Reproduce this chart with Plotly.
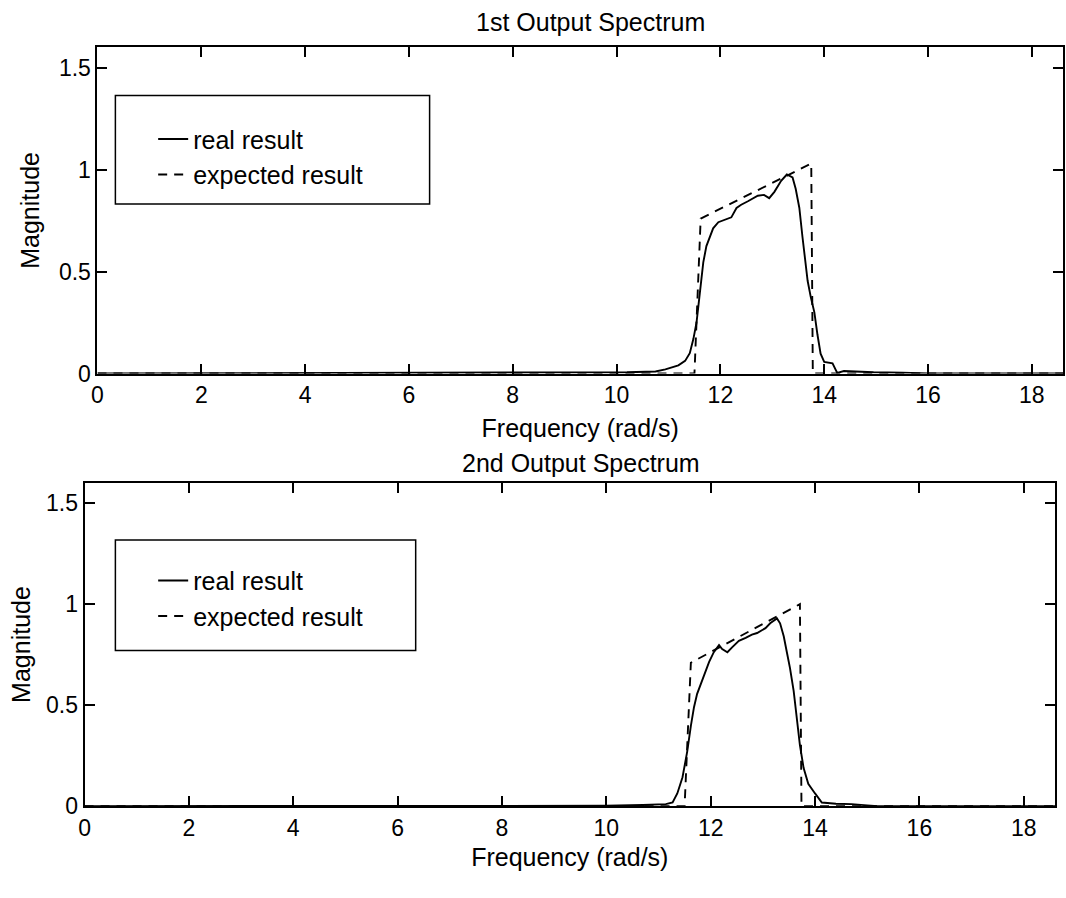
import plotly.graph_objects as go

W, H = 1066, 898

# ---------------- data ----------------
# 1st output spectrum
real1_x = [0, 9.7, 10.2, 10.75, 10.94, 11.19, 11.32, 11.41, 11.48, 11.54, 11.61, 11.67,
           11.73, 11.80, 11.86, 11.96, 12.08, 12.21, 12.31, 12.40, 12.53, 12.72, 12.84,
           12.94, 13.04, 13.17, 13.28, 13.39, 13.45, 13.52, 13.58, 13.68, 13.74, 13.81,
           13.87, 13.93, 14.00, 14.16, 14.25, 14.38, 14.6, 14.95, 15.5, 16.0, 18.6]
real1_y = [0, 0.004, 0.006, 0.010, 0.020, 0.040, 0.062, 0.100, 0.170, 0.250, 0.420, 0.545,
           0.625, 0.672, 0.712, 0.742, 0.753, 0.766, 0.812, 0.828, 0.845, 0.872, 0.876,
           0.860, 0.891, 0.945, 0.976, 0.962, 0.906, 0.813, 0.672, 0.455, 0.376, 0.300,
           0.190, 0.097, 0.057, 0.050, 0.003, 0.012, 0.010, 0.006, 0.004, 0, 0]
exp1_x = [0, 11.50, 11.62, 13.75, 13.78, 18.6]
exp1_y = [0, 0, 0.76, 1.03, 0, 0]

# 2nd output spectrum
real2_x = [0, 10.0, 10.7, 11.14, 11.27, 11.36, 11.46, 11.55, 11.62, 11.68, 11.74, 11.81,
           11.87, 11.97, 12.06, 12.16, 12.22, 12.32, 12.41, 12.54, 12.67, 12.79, 12.89,
           12.95, 13.05, 13.14, 13.27, 13.33, 13.40, 13.46, 13.52, 13.59, 13.65, 13.71,
           13.78, 13.87, 14.00, 14.13, 14.4, 14.7, 15.0, 15.2, 18.6]
real2_y = [0, 0.002, 0.006, 0.010, 0.018, 0.063, 0.143, 0.270, 0.397, 0.490, 0.556, 0.603,
           0.651, 0.714, 0.762, 0.797, 0.778, 0.762, 0.786, 0.818, 0.833, 0.849, 0.857,
           0.865, 0.881, 0.905, 0.929, 0.905, 0.841, 0.762, 0.683, 0.571, 0.429, 0.302,
           0.190, 0.111, 0.063, 0.018, 0.012, 0.010, 0.004, 0, 0]
exp2_x = [0, 11.50, 11.62, 13.71, 13.74, 18.6]
exp2_y = [0, 0, 0.71, 1.00, 0, 0]

titles = ["1st Output Spectrum", "2nd Output Spectrum"]
xlabel = "Frequency (rad/s)"
ylabel = "Magnitude"
xticks = [0, 2, 4, 6, 8, 10, 12, 14, 16, 18]
xtick_text = ["0", "2", "4", "6", "8", "10", "12", "14", "16", "18"]
yticks = [0, 0.5, 1, 1.5]
ytick_text = ["0", "0.5", "1", "1.5"]
names = ["real result", "expected result"]

FONT = "Liberation Sans, Arial, Helvetica, sans-serif"


def px(x):
    return x / W


def py(y):
    return 1 - y / H


fig = go.Figure()

line_kw = dict(color="black", width=1.9)
fig.add_trace(go.Scatter(x=real1_x, y=real1_y, mode="lines", name=names[0],
                         line=dict(**line_kw), xaxis="x", yaxis="y", legend="legend"))
fig.add_trace(go.Scatter(x=exp1_x, y=exp1_y, mode="lines", name=names[1],
                         line=dict(**line_kw, dash="9px,7px"), xaxis="x", yaxis="y",
                         legend="legend"))
fig.add_trace(go.Scatter(x=real2_x, y=real2_y, mode="lines", name=names[0],
                         line=dict(**line_kw), xaxis="x2", yaxis="y2", legend="legend2"))
fig.add_trace(go.Scatter(x=exp2_x, y=exp2_y, mode="lines", name=names[1],
                         line=dict(**line_kw, dash="9px,7px"), xaxis="x2", yaxis="y2",
                         legend="legend2"))

axis_common = dict(
    showline=True, linecolor="black", linewidth=2, mirror="ticks",
    ticks="inside", ticklen=10, tickwidth=1.5, tickcolor="black",
    showgrid=False, zeroline=False,
    tickfont=dict(family=FONT, size=23, color="black"),
)

# subplot boxes (pixels)
top_box = dict(l=92, r=1063, t=48, b=379)
bot_box = dict(l=79, r=1055, t=490, b=818)

fig.update_layout(
    width=W, height=H,
    margin=dict(l=0, r=0, t=0, b=0),
    paper_bgcolor="white", plot_bgcolor="white",
    xaxis=dict(**axis_common, domain=[px(top_box["l"]), px(top_box["r"])], range=[0, 18.6],
               tickvals=xticks, ticktext=xtick_text, anchor="y",
               title=dict(text=xlabel, font=dict(family=FONT, size=25, color="black"), standoff=12)),
    yaxis=dict(**axis_common, domain=[py(top_box["b"]), py(top_box["t"])], range=[0, 1.6],
               tickvals=yticks, ticktext=ytick_text, anchor="x",
               title=dict(text=ylabel, font=dict(family=FONT, size=25, color="black"), standoff=12)),
    xaxis2=dict(**axis_common, domain=[px(bot_box["l"]), px(bot_box["r"])], range=[0, 18.6],
                tickvals=xticks, ticktext=xtick_text, anchor="y2",
                title=dict(text=xlabel, font=dict(family=FONT, size=25, color="black"), standoff=9)),
    yaxis2=dict(**axis_common, domain=[py(bot_box["b"]), py(bot_box["t"])], range=[0, 1.6],
                tickvals=yticks, ticktext=ytick_text, anchor="x2",
                title=dict(text=ylabel, font=dict(family=FONT, size=25, color="black"), standoff=8)),
    legend=dict(x=px(148), y=py(118), xanchor="left", yanchor="top",
                bgcolor="rgba(0,0,0,0)", borderwidth=0,
                font=dict(family=FONT, size=25, color="black"), tracegroupgap=0),
    legend2=dict(x=px(148), y=py(566), xanchor="left", yanchor="top",
                 bgcolor="rgba(0,0,0,0)", borderwidth=0,
                 font=dict(family=FONT, size=25, color="black"), tracegroupgap=0),
    showlegend=True,
)

# legend frames
fig.add_shape(type="rect", xref="paper", yref="paper",
              x0=px(110), x1=px(426), y0=py(207), y1=py(97),
              line=dict(color="black", width=1.5), fillcolor="white", layer="below")
fig.add_shape(type="rect", xref="paper", yref="paper",
              x0=px(110), x1=px(412), y0=py(660), y1=py(548),
              line=dict(color="black", width=1.5), fillcolor="white", layer="below")

# subplot titles
fig.add_annotation(text=titles[0], x=px(588), y=py(22), xref="paper", yref="paper",
                   xanchor="center", yanchor="middle",
                   showarrow=False, font=dict(family=FONT, size=25, color="black"))
fig.add_annotation(text=titles[1], x=px(578), y=py(470), xref="paper", yref="paper",
                   xanchor="center", yanchor="middle",
                   showarrow=False, font=dict(family=FONT, size=25, color="black"))

fig.write_html("out.html")
